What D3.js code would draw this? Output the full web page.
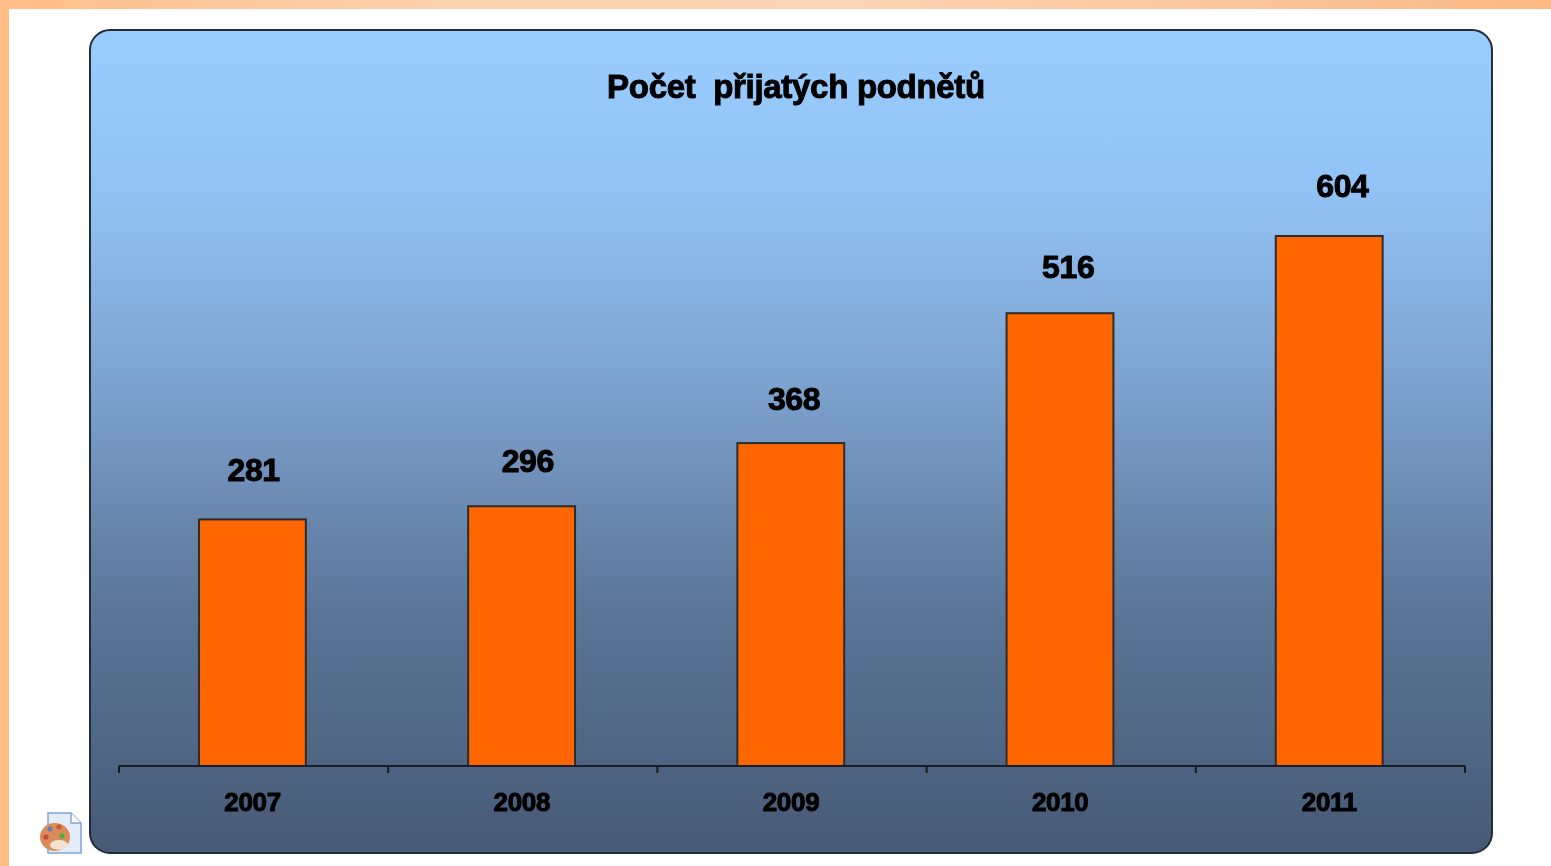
<!DOCTYPE html>
<head>
    <meta charset="utf-8">
    <style>
    html, body { margin: 0; padding: 0; background: white; overflow: hidden; }
    svg { display: block; font-family: 'Liberation Sans', Arial, sans-serif; }
    .soft { filter: blur(0.6px); }
    text { fill: #000; font-weight: bold; stroke: #000; stroke-width: 1px; }
    .title { font-size: 33px; white-space: pre; letter-spacing: -0.3px; }
    .value { font-size: 32px; letter-spacing: -0.4px; }
    .axis text { font-size: 26px; letter-spacing: -0.3px; }
    .axis line, .axis path { stroke: #161e2a; stroke-width: 2; }
    </style>
</head>
<body>
  <script src="https://d3js.org/d3.v7.min.js"></script>
  <script>
  // DATA
  const years = ['2007', '2008', '2009', '2010', '2011'];
  const counts = [281, 296, 368, 516, 604];
  const chartTitle = 'Počet  přijatých podnětů';

  // hand-placed data labels in the original, offset from bar centre / bar top
  const labelDx = [1, 6, 3, 8, 13];
  const labelDy = [-38, -34, -33, -35, -39];

  // DIMENSIONS
  const width = 1551, height = 866;
  const panel = {x: 90, y: 30, w: 1402, h: 823, r: 20};
  const axisLeft = 119, axisRight = 1465, axisY = 766, topY = 236;

  const root = d3.select('body').append('svg')
      .attr('width', width)
      .attr('height', height);

  const defs = root.append('defs');

  const topBand = defs.append('linearGradient').attr('id', 'topBand');
  topBand.append('stop').attr('offset', '0%').attr('stop-color', '#ffbd88');
  topBand.append('stop').attr('offset', '30%').attr('stop-color', '#fdd3b0');
  topBand.append('stop').attr('offset', '55%').attr('stop-color', '#fdd4b4');
  topBand.append('stop').attr('offset', '100%').attr('stop-color', '#fbb985');

  const panelFill = defs.append('linearGradient').attr('id', 'panelFill')
      .attr('x1', 0).attr('y1', 0).attr('x2', 0).attr('y2', 1);
  panelFill.append('stop').attr('offset', '0%').attr('stop-color', '#99ccff');
  panelFill.append('stop').attr('offset', '20%').attr('stop-color', '#92c2f4');
  panelFill.append('stop').attr('offset', '45%').attr('stop-color', '#7b9fcb');
  panelFill.append('stop').attr('offset', '70%').attr('stop-color', '#5b7698');
  panelFill.append('stop').attr('offset', '100%').attr('stop-color', '#475a76');

  // PAGE FRAME (kept out of the blur so it reaches the window edge)
  root.append('rect').attr('width', width).attr('height', 9).attr('fill', 'url(#topBand)');
  root.append('rect').attr('width', 9).attr('height', height).attr('fill', '#ffbd88');

  const svg = root.append('g').attr('class', 'soft');

  // PANEL
  svg.append('rect')
      .attr('x', panel.x).attr('y', panel.y)
      .attr('width', panel.w).attr('height', panel.h)
      .attr('rx', panel.r).attr('ry', panel.r)
      .attr('fill', 'url(#panelFill)')
      .attr('stroke', '#222d3a')
      .attr('stroke-width', 2);

  // SCALES
  const xScale = d3.scaleBand()
      .domain(years)
      .range([axisLeft, axisRight])
      .paddingInner(0.6)
      .paddingOuter(0.3);

  const yScale = d3.scaleLinear()
      .domain([0, d3.max(counts)])
      .range([axisY, topY]);

  // BARS
  svg.append('g').selectAll('rect')
      .data(years)
      .join('rect')
      .attr('x', d => xScale(d) - 0.8)
      .attr('y', (d, i) => yScale(counts[i]))
      .attr('width', xScale.bandwidth() - 0.8)
      .attr('height', (d, i) => axisY - yScale(counts[i]))
      .attr('fill', '#ff6600')
      .attr('stroke', '#2c2c2c')
      .attr('stroke-width', 2);

  // AXIS
  const xAxis = d3.axisBottom(xScale).tickSize(0).tickPadding(27);
  const xAxisG = svg.append('g')
      .attr('class', 'axis')
      .attr('transform', `translate(-1,${axisY})`)
      .call(xAxis);
  xAxisG.select('.domain').attr('d', `M${axisLeft + 1},0H${axisRight + 1}`);

  // tick marks sit between the categories
  const tickXs = d3.range(years.length + 1).map(i => axisLeft + 1 + i * xScale.step());
  xAxisG.selectAll('.edge')
      .data(tickXs)
      .join('line')
      .attr('class', 'edge')
      .attr('x1', d => d).attr('x2', d => d)
      .attr('y1', 0).attr('y2', 7);

  // VALUE LABELS
  svg.append('g').selectAll('text')
      .data(years)
      .join('text')
      .attr('class', 'value')
      .attr('text-anchor', 'middle')
      .attr('x', (d, i) => xScale(d) + xScale.bandwidth() / 2 + labelDx[i] - 1)
      .attr('y', (d, i) => yScale(counts[i]) + labelDy[i])
      .text((d, i) => counts[i]);

  // TITLE
  svg.append('text')
      .attr('class', 'title')
      .attr('text-anchor', 'middle')
      .attr('x', 796)
      .attr('y', 98)
      .text(chartTitle);

  // SMALL FILE ICON bottom left
  const icon = svg.append('g').attr('transform', 'translate(40,812)');
  icon.append('path')
      .attr('d', 'M8,1H31L41,11V41H8Z')
      .attr('fill', '#e3edfa')
      .attr('stroke', '#7fa4dc')
      .attr('stroke-width', 1.5);
  icon.append('path')
      .attr('d', 'M31,1V11H41')
      .attr('fill', '#ffffff')
      .attr('stroke', '#7fa4dc')
      .attr('stroke-width', 1.5);
  icon.append('ellipse')
      .attr('cx', 15).attr('cy', 25).attr('rx', 15).attr('ry', 14)
      .attr('fill', '#d98b58');
  icon.append('ellipse')
      .attr('cx', 19).attr('cy', 33).attr('rx', 9).attr('ry', 5)
      .attr('fill', '#f1e3cf');
  const dabs = [[10, 17, '#5b7fb5'], [19, 15, '#c9583c'], [6, 25, '#c9483c'], [22, 24, '#55a84a']];
  icon.selectAll('circle')
      .data(dabs)
      .join('circle')
      .attr('cx', d => d[0]).attr('cy', d => d[1]).attr('r', 2.6)
      .attr('fill', d => d[2]);
  </script>
</body>
